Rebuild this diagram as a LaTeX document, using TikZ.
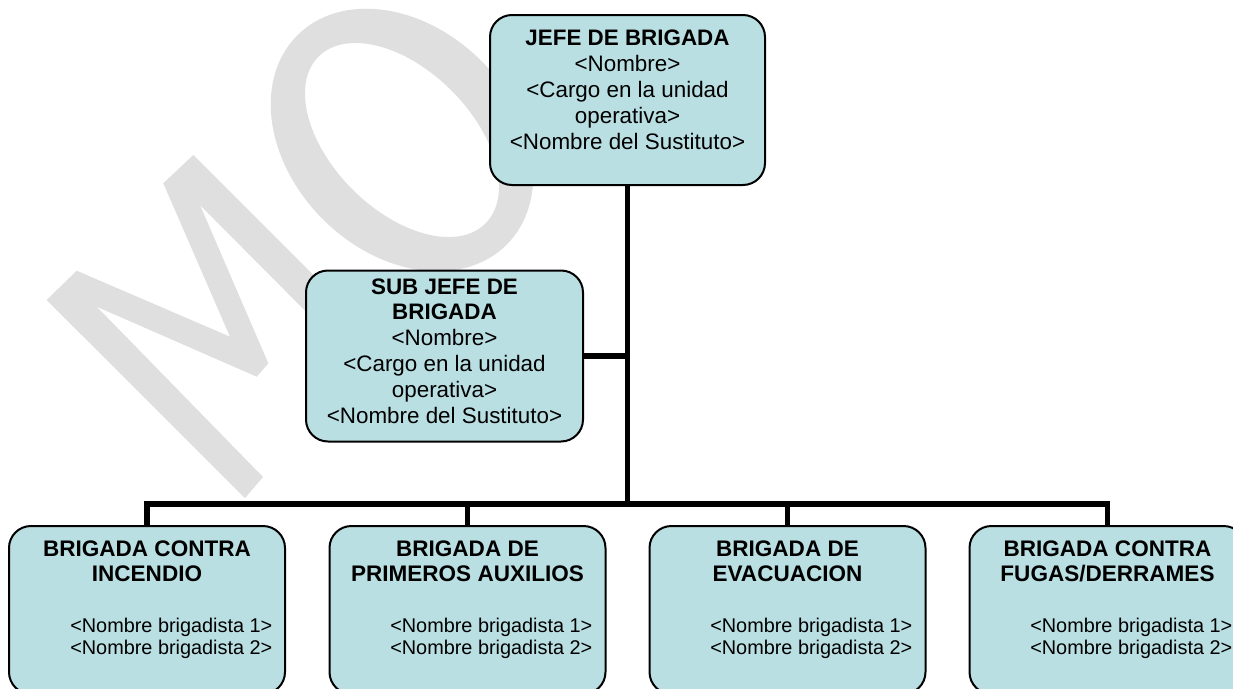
\documentclass[tikz,border=0pt]{standalone}
\usepackage{fontspec}
\setmainfont{Liberation Sans}
\definecolor{boxfill}{HTML}{B9DFE3}
\definecolor{wm}{HTML}{DFDFDF}
\begin{document}
\begin{tikzpicture}[x=0.75pt,y=-0.75pt,
  box/.style={draw=black, line width=1.5pt, fill=boxfill, rounded corners=16.5pt, inner sep=0pt},
  conn/.style={line width=4.1pt, line join=miter},
  toptxt/.style={align=center, font=\fontsize{16.8}{19.4}\selectfont, inner sep=0pt},
  ttl/.style={align=center, font=\fontsize{16.9}{18.75}\selectfont\bfseries, inner sep=0pt},
  names/.style={align=left, font=\fontsize{14.9}{16.3}\selectfont, inner sep=0pt, anchor=west},
]
\useasboundingbox (0,0) rectangle (1233,689);
\fill[white] (0,0) rectangle (1233,689);

% watermark
\fill[wm] (46.7,300) -- (76.7,270.7) -- (230,336.7) -- (163.3,183.3) -- (193.3,155)
  -- (390,351.6) -- (368,374) -- (200,205) -- (268.3,363.3) -- (256.7,376.7)
  -- (96.7,306.7) -- (263,477) -- (245,498) -- cycle;
\begin{scope}[shift={(402,140)}, rotate=-45]
  \fill[wm, even odd rule] (0,0) ellipse [x radius=111pt, y radius=84pt]
                           (0,0) ellipse [x radius=88.5pt, y radius=52.5pt];
\end{scope}

% boxes
\node[box, minimum width=206.25pt, minimum height=127.5pt] (jefe) at (627.5,100) {};
\node[box, minimum width=207.75pt, minimum height=128.25pt] (sub) at (444.5,356) {};
\node[box, minimum width=207pt, minimum height=126pt] (b1) at (147,610) {};
\node[box, minimum width=207pt, minimum height=126pt] (b2) at (467.5,610) {};
\node[box, minimum width=207pt, minimum height=126pt] (b3) at (787.5,610) {};
\node[box, minimum width=207pt, minimum height=126pt] (b4) at (1107.5,610) {};

\coordinate (hub) at (627.5,504);

% connectors
\draw[conn] (jefe) -- (hub);
\draw[conn] (sub.east) -- (sub.east -| hub);
\draw[conn] (b1.north) -- (b1.north |- hub) -- (b4.north |- hub) -- (b4.north);
\draw[conn] (b2.north) -- (b2.north |- hub);
\draw[conn] (b3.north) -- (b3.north |- hub);

% texts
\node[toptxt] (jefet) at (627.5,90) {\textbf{JEFE DE BRIGADA}\\<Nombre>\\<Cargo en la unidad\\operativa>\\<Nombre del Sustituto>};
\node[toptxt] (subt) at (444.5,351) {\textbf{SUB JEFE DE}\\\textbf{BRIGADA}\\<Nombre>\\<Cargo en la unidad\\operativa>\\<Nombre del Sustituto>};

\node[ttl] (b1t) at (147,561.5) {BRIGADA CONTRA\\INCENDIO};
\node[ttl] (b2t) at (467.5,561.5) {BRIGADA DE\\PRIMEROS AUXILIOS};
\node[ttl] (b3t) at (787.5,561.5) {BRIGADA DE\\EVACUACION};
\node[ttl] (b4t) at (1107.5,561.5) {BRIGADA CONTRA\\FUGAS/DERRAMES};

\node[names] (b1n) at (70,638) {<Nombre brigadista 1>\\<Nombre brigadista 2>};
\node[names] (b2n) at (390,638) {<Nombre brigadista 1>\\<Nombre brigadista 2>};
\node[names] (b3n) at (710,638) {<Nombre brigadista 1>\\<Nombre brigadista 2>};
\node[names] (b4n) at (1030,638) {<Nombre brigadista 1>\\<Nombre brigadista 2>};
\end{tikzpicture}
\end{document}
